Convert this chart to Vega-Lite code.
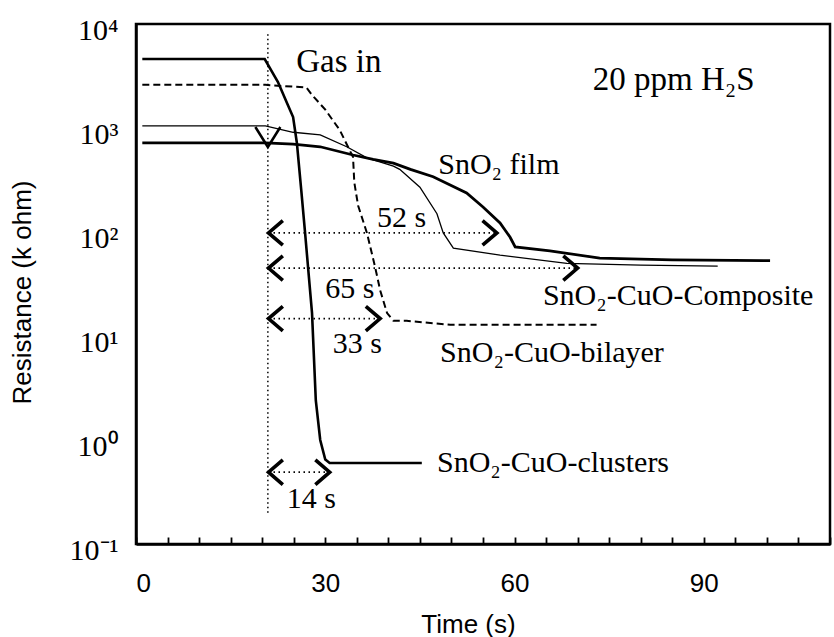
{
  "$schema": "https://vega.github.io/schema/vega-lite/v6.json",
  "width": 694,
  "height": 520,
  "autosize": "none",
  "padding": {"left": 136, "top": 24, "right": 4, "bottom": 93},
  "background": "white",
  "config": {
    "view": {"stroke": "black", "strokeWidth": 2.5},
    "axis": {
      "grid": false,
      "domainColor": "black",
      "domainWidth": 2.5,
      "tickColor": "black",
      "tickWidth": 1.8,
      "labelColor": "black",
      "titleColor": "black"
    }
  },
  "datasets": {
    "curves": [
      {"series": "clusters", "t": 1, "r": 4600},
      {"series": "clusters", "t": 20.4, "r": 4600},
      {"series": "clusters", "t": 22.5, "r": 2770},
      {"series": "clusters", "t": 24.0, "r": 1700},
      {"series": "clusters", "t": 24.9, "r": 1276},
      {"series": "clusters", "t": 25.5, "r": 718},
      {"series": "clusters", "t": 26.2, "r": 250},
      {"series": "clusters", "t": 26.8, "r": 98},
      {"series": "clusters", "t": 27.9, "r": 16.6},
      {"series": "clusters", "t": 28.5, "r": 2.4},
      {"series": "clusters", "t": 29.2, "r": 1.0},
      {"series": "clusters", "t": 30.0, "r": 0.65},
      {"series": "clusters", "t": 30.7, "r": 0.6},
      {"series": "clusters", "t": 45.3, "r": 0.6},
      {"series": "bilayer", "t": 1, "r": 2600},
      {"series": "bilayer", "t": 20.5, "r": 2600},
      {"series": "bilayer", "t": 27.0, "r": 2450},
      {"series": "bilayer", "t": 27.9, "r": 2080},
      {"series": "bilayer", "t": 30.0, "r": 1500},
      {"series": "bilayer", "t": 32.3, "r": 955},
      {"series": "bilayer", "t": 34.4, "r": 525},
      {"series": "bilayer", "t": 34.6, "r": 300},
      {"series": "bilayer", "t": 35.2, "r": 180},
      {"series": "bilayer", "t": 36.6, "r": 98},
      {"series": "bilayer", "t": 37.9, "r": 46},
      {"series": "bilayer", "t": 38.7, "r": 27.5},
      {"series": "bilayer", "t": 39.8, "r": 16.6},
      {"series": "bilayer", "t": 40.8, "r": 14},
      {"series": "bilayer", "t": 42.9, "r": 14},
      {"series": "bilayer", "t": 49.8, "r": 12.8},
      {"series": "bilayer", "t": 73, "r": 12.8},
      {"series": "composite", "t": 1, "r": 1050},
      {"series": "composite", "t": 20.5, "r": 1050},
      {"series": "composite", "t": 24.9, "r": 910},
      {"series": "composite", "t": 29.2, "r": 860},
      {"series": "composite", "t": 33.4, "r": 660},
      {"series": "composite", "t": 36.6, "r": 516},
      {"series": "composite", "t": 40.8, "r": 430},
      {"series": "composite", "t": 41.8, "r": 400},
      {"series": "composite", "t": 45.0, "r": 270},
      {"series": "composite", "t": 47.7, "r": 150},
      {"series": "composite", "t": 48.7, "r": 98},
      {"series": "composite", "t": 50.3, "r": 70},
      {"series": "composite", "t": 57.7, "r": 60},
      {"series": "composite", "t": 68.3, "r": 50},
      {"series": "composite", "t": 80, "r": 48},
      {"series": "composite", "t": 92.2, "r": 47},
      {"series": "film", "t": 1, "r": 720},
      {"series": "film", "t": 20.5, "r": 720},
      {"series": "film", "t": 24.9, "r": 700},
      {"series": "film", "t": 29.2, "r": 660},
      {"series": "film", "t": 34.4, "r": 550},
      {"series": "film", "t": 37.6, "r": 500},
      {"series": "film", "t": 40.8, "r": 460},
      {"series": "film", "t": 43.5, "r": 400},
      {"series": "film", "t": 47.1, "r": 340},
      {"series": "film", "t": 52.4, "r": 237},
      {"series": "film", "t": 55.0, "r": 174},
      {"series": "film", "t": 57.7, "r": 122},
      {"series": "film", "t": 59.3, "r": 89},
      {"series": "film", "t": 60.1, "r": 72},
      {"series": "film", "t": 65.6, "r": 66},
      {"series": "film", "t": 73.5, "r": 56},
      {"series": "film", "t": 85, "r": 54},
      {"series": "film", "t": 100.5, "r": 53}
    ],
    "arrows": [
      {"name": "52 s", "t": 21, "t2": 57.2, "r": 98},
      {"name": "65 s", "t": 21, "t2": 70, "r": 45},
      {"name": "33 s", "t": 21, "t2": 38.7, "r": 14.7},
      {"name": "14 s", "t": 21, "t2": 30.7, "r": 0.49}
    ],
    "arrowEnds": [
      {"name": "52 s", "t": 57.2, "r": 98},
      {"name": "65 s", "t": 70, "r": 45},
      {"name": "33 s", "t": 38.7, "r": 14.7},
      {"name": "14 s", "t": 30.7, "r": 0.49}
    ],
    "gas": [
      {"t": 20.9, "r": 0.2, "r2": 8200}
    ],
    "gasArrow": [
      {"t": 20.9, "r": 819}
    ],
    "yMinorTicks": [
      {"r": 0.2}, {"r": 0.3}, {"r": 0.4}, {"r": 0.5}, {"r": 0.6}, {"r": 0.7}, {"r": 0.8}, {"r": 0.9},
      {"r": 2}, {"r": 3}, {"r": 4}, {"r": 5}, {"r": 6}, {"r": 7}, {"r": 8}, {"r": 9},
      {"r": 20}, {"r": 30}, {"r": 40}, {"r": 50}, {"r": 60}, {"r": 70}, {"r": 80}, {"r": 90},
      {"r": 200}, {"r": 300}, {"r": 400}, {"r": 500}, {"r": 600}, {"r": 700}, {"r": 800}, {"r": 900},
      {"r": 2000}, {"r": 3000}, {"r": 4000}, {"r": 5000}, {"r": 6000}, {"r": 7000}, {"r": 8000}, {"r": 9000}
    ],
    "yMajorTicks": [
      {"r": 1}, {"r": 10}, {"r": 100}, {"r": 1000}
    ],
    "bigLabels": [
      {"text": "Gas in", "t": 25.4, "r": 3450},
      {"text": "20 ppm H₂S", "t": 72.4, "r": 2320}
    ],
    "labels": [
      {"text": "SnO₂ film", "t": 47.9, "r": 361},
      {"text": "52 s", "t": 38.2, "r": 112},
      {"text": "65 s", "t": 30, "r": 23.2},
      {"text": "SnO₂-CuO-Composite", "t": 64.5, "r": 19.9},
      {"text": "33 s", "t": 31.2, "r": 6.9},
      {"text": "SnO₂-CuO-bilayer", "t": 48.2, "r": 5.6},
      {"text": "SnO₂-CuO-clusters", "t": 47.7, "r": 0.49},
      {"text": "14 s", "t": 23.9, "r": 0.22}
    ]
  },
  "encoding": {
    "x": {"field": "t", "type": "quantitative", "title": "Time (s)",
          "scale": {"domain": [0, 110], "nice": false, "zero": false},
          "axis": {"values": [0,5,10,15,20,25,30,35,40,45,50,55,60,65,70,75,80,85,90,95,100,105,110],
                   "tickCount": 200,
                   "ticks": true,
                   "tickSize": -7,
                   "labelExpr": "datum.value % 30 == 0 ? format(datum.value, 'd') : ''",
                   "labelFont": "Liberation Sans",
                   "labelFontSize": 26,
                   "labelPadding": 33,
                   "labelBaseline": "top",
                   "titleFont": "Liberation Sans",
                   "titleFontSize": 26,
                   "titleFontWeight": "normal",
                   "titleBaseline": "alphabetic",
                   "titleX": 332,
                   "titleY": 88}},
    "y": {"field": "r", "type": "quantitative", "title": "Resistance (k ohm)",
          "scale": {"type": "log", "domain": [0.1, 10000], "nice": false},
          "axis": {"values": [0.1, 1, 10, 100, 1000, 10000],
                   "ticks": false,
                   "labelOverlap": false,
                   "labelExpr": "datum.value == 0.1 ? '10⁻¹' : datum.value == 1 ? '10⁰' : datum.value == 10 ? '10¹' : datum.value == 100 ? '10²' : datum.value == 1000 ? '10³' : datum.value == 10000 ? '10⁴' : ''",
                   "labelFont": "Liberation Serif",
                   "labelFontSize": 30,
                   "labelPadding": 18,
                   "labelOffset": 6,
                   "titleFont": "Liberation Sans",
                   "titleFontSize": 26,
                   "titleFontWeight": "normal",
                   "titleX": -101,
                   "titleY": 268}}
  },
  "layer": [
    {
      "data": {"name": "curves"},
      "transform": [{"filter": "datum.series == 'clusters'"}],
      "mark": {"type": "line", "color": "black", "strokeWidth": 2.6}
    },
    {
      "data": {"name": "curves"},
      "transform": [{"filter": "datum.series == 'bilayer'"}],
      "mark": {"type": "line", "color": "black", "strokeWidth": 2, "strokeDash": [7, 4]}
    },
    {
      "data": {"name": "curves"},
      "transform": [{"filter": "datum.series == 'composite'"}],
      "mark": {"type": "line", "color": "black", "strokeWidth": 1.3}
    },
    {
      "data": {"name": "curves"},
      "transform": [{"filter": "datum.series == 'film'"}],
      "mark": {"type": "line", "color": "black", "strokeWidth": 2.8}
    },
    {
      "data": {"name": "gas"},
      "mark": {"type": "rule", "color": "black", "strokeWidth": 1.5, "strokeDash": [1.5, 3]},
      "encoding": {"y2": {"field": "r2"}}
    },
    {
      "data": {"name": "gasArrow"},
      "mark": {"type": "point", "shape": "M-1.25,-1L0,1L1.25,-1", "filled": false, "stroke": "black", "strokeWidth": 2.5, "size": 400, "opacity": 1}
    },
    {
      "data": {"name": "arrows"},
      "mark": {"type": "rule", "color": "black", "strokeWidth": 1.8, "strokeDash": [1.5, 3.5]},
      "encoding": {"x2": {"field": "t2"}}
    },
    {
      "data": {"name": "arrows"},
      "mark": {"type": "point", "shape": "M1.4,-1.2L0,0L1.4,1.2", "filled": false, "stroke": "black", "strokeWidth": 3.6, "size": 420, "opacity": 1}
    },
    {
      "data": {"name": "arrowEnds"},
      "mark": {"type": "point", "shape": "M-1.4,-1.2L0,0L-1.4,1.2", "filled": false, "stroke": "black", "strokeWidth": 3.6, "size": 420, "opacity": 1}
    },
    {
      "data": {"name": "bigLabels"},
      "mark": {"type": "text", "align": "left", "baseline": "alphabetic", "font": "Liberation Serif", "fontSize": 33, "color": "black"},
      "encoding": {"text": {"field": "text", "type": "nominal"}}
    },
    {
      "data": {"name": "labels"},
      "mark": {"type": "text", "align": "left", "baseline": "alphabetic", "font": "Liberation Serif", "fontSize": 30, "color": "black"},
      "encoding": {"text": {"field": "text", "type": "nominal"}}
    },
    {
      "data": {"name": "yMinorTicks"},
      "mark": {"type": "rule", "color": "black", "strokeWidth": 2, "opacity": 1},
      "encoding": {
        "x": {"datum": 0, "type": "quantitative"},
        "x2": {"datum": 1.2},
        "y": {"field": "r", "type": "quantitative"}
      }
    },
    {
      "data": {"name": "yMajorTicks"},
      "mark": {"type": "rule", "color": "black", "strokeWidth": 2.5, "opacity": 1},
      "encoding": {
        "x": {"datum": 0, "type": "quantitative"},
        "x2": {"datum": 1.8},
        "y": {"field": "r", "type": "quantitative"}
      }
    }
  ]
}
